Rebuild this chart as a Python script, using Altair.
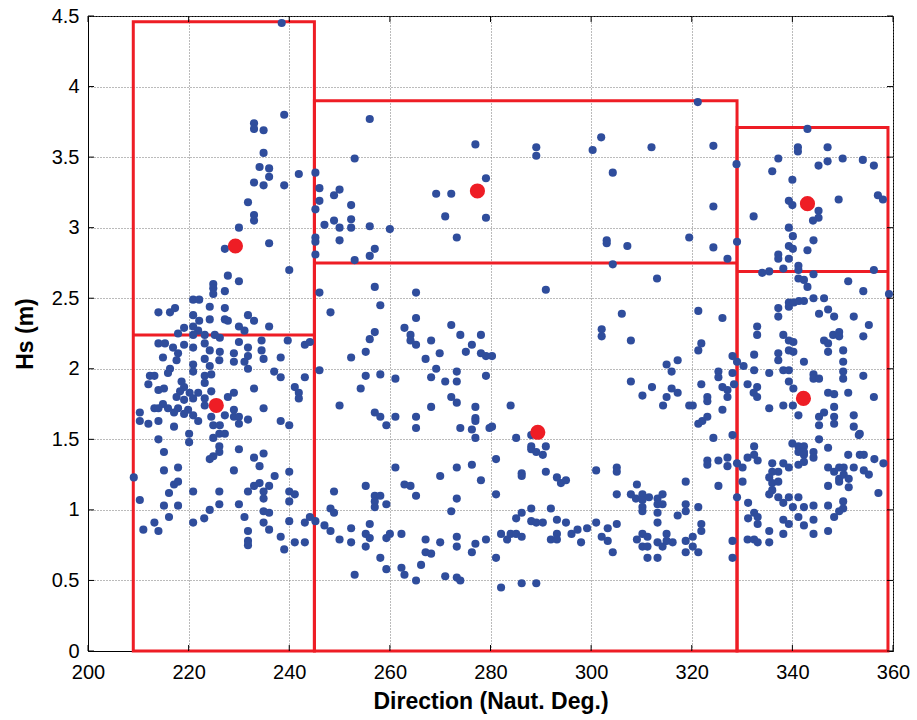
import altair as alt
import pandas as pd

# ---- scatter points (Direction deg, Hs m), grouped by region ----
pts_a_high = [(238.5,4.45),(239.0,3.80),(233.0,3.74),(233.0,3.70),(234.9,3.69),(234.9,3.53),(234.1,3.43),
    (236.0,3.42),(236.0,3.36),(233.0,3.32),(234.9,3.30),(239.0,3.30),(231.8,3.18),(233.0,3.09),(233.0,3.05),(230.0,3.00)]
pts_b_high = [(256.0,3.77),(277.0,3.59),(253.0,3.49),(241.9,3.38),(245.2,3.39),(246.0,3.28),(250.0,3.27),(248.9,3.23),
    (246.0,3.19),(245.2,3.13),(252.3,3.16),(252.3,3.06),(248.9,3.05),(247.0,3.02),(250.0,3.00),(252.3,3.00),(256.0,3.01),
    (260.0,2.99),(269.2,3.24),(272.2,3.24),(279.1,3.35),(271.0,3.08),(279.1,3.07),
    (289.1,3.57),(289.1,3.51),(302.0,3.64),(300.3,3.55),(312.0,3.57),(304.3,3.39)]
pts_c_high = [(321.2,3.89),(324.3,3.58),(328.9,3.45),(343.0,3.70),(341.1,3.57),(341.1,3.54),(347.0,3.57),(337.2,3.49),
    (347.0,3.47),(345.2,3.44),(350.0,3.49),(354.0,3.48),(356.2,3.44),(336.0,3.40),(340.0,3.34),(324.3,3.15),(332.3,3.08),
    (339.3,3.19),(340.0,3.16),(345.2,3.12),(345.2,3.07),(344.1,3.05),(349.2,3.20),(357.0,3.23),(358.0,3.20),(339.3,3.00)]
pts_a_mid = [(227.2,2.85),(236.0,2.89),(240.0,2.70),(227.8,2.66),(230.0,2.62),(224.9,2.60),(224.9,2.57),(224.9,2.53),
    (227.2,2.55),(220.9,2.49),(222.1,2.49),(224.2,2.44),(227.2,2.43),(214.0,2.40),(216.3,2.40),(217.3,2.43),(220.9,2.38),
    (222.1,2.34),(224.2,2.35),(227.2,2.35),(227.8,2.34),(231.8,2.38),(233.0,2.34),(230.0,2.30),(231.1,2.27),(236.0,2.30),
    (219.1,2.29),(220.9,2.30),(221.9,2.27),(217.9,2.25),(220.9,2.24),(223.2,2.24),(225.2,2.24),(226.2,2.22),(214.0,2.18),
    (215.3,2.18),(216.9,2.15),(219.1,2.17),(220.9,2.15),(223.2,2.18),(224.2,2.13),(226.2,2.12),(230.0,2.19),(231.8,2.15),
    (234.5,2.20),(234.5,2.13),(239.7,2.20),(214.9,2.08),(217.9,2.11),(217.6,2.06),(223.2,2.07),(226.1,2.06),(229.0,2.11),
    (229.0,2.05),(231.8,2.09),(231.1,2.05),(234.9,2.07),(238.3,2.08),(220.9,2.03),(216.3,2.00),(220.9,1.98),(224.2,2.02),
    (231.8,2.00),(237.0,1.98),(212.3,1.95),(213.2,1.95),(215.9,1.97),(223.2,1.95),(224.5,1.96),(238.3,1.94),(212.0,1.89),
    (218.6,1.91),(219.1,1.87),(223.2,1.90),(214.0,1.85),(215.1,1.86),(218.3,1.84),(220.2,1.83),(221.9,1.83),(224.5,1.84),
    (229.0,1.83),(233.0,1.86),(217.6,1.80),(219.1,1.78),(223.2,1.79),(227.8,1.80),(214.9,1.75),(220.9,1.79),(223.2,1.74),
    (213.2,1.72),(215.9,1.72),(217.9,1.72),(219.9,1.71),(210.3,1.69),(214.0,1.72),(217.1,1.69),(219.1,1.68),(220.9,1.67),
    (229.0,1.71),(234.9,1.72),(227.2,1.67),(229.0,1.66),(230.0,1.66),(224.5,1.66),(210.3,1.63),(212.0,1.61),(214.0,1.63),
    (221.9,1.63),(231.8,1.64),(230.0,1.61),(238.3,1.63),(240.0,1.60),(217.1,1.59),(224.9,1.60),(226.2,1.60),(226.1,1.54),
    (227.2,1.54),(220.1,1.54),(214.0,1.50),(224.9,1.51)]
pts_a_low = [(220.1,1.48),(226.1,1.45),(226.1,1.41),(224.9,1.38),(224.2,1.36),(215.1,1.41),(230.0,1.43),(233.0,1.37),
    (234.9,1.40),(209.1,1.23),(215.1,1.28),(217.9,1.30),(229.0,1.28),(234.1,1.31),(237.1,1.24),(240.0,1.27),(217.1,1.18),
    (217.9,1.20),(216.1,1.12),(220.9,1.13),(226.1,1.13),(210.3,1.07),(215.1,1.03),(217.9,1.03),(226.1,1.04),(224.2,1.00),
    (230.0,1.04),(231.8,1.13),(233.0,1.17),(234.1,1.19),(236.0,1.17),(234.9,1.13),(234.9,1.08),(240.0,1.13),(240.0,1.06),
    (216.1,0.95),(213.2,0.91),(211.0,0.86),(214.0,0.85),(220.9,0.91),(223.1,0.94),(231.1,0.95),(234.9,0.99),(236.0,0.98),
    (234.9,0.91),(236.0,0.86),(231.8,0.85),(231.8,0.78),(231.8,0.75),(238.3,0.81),(239.0,0.72),(240.0,0.92)]
pts_b_mid = [(273.3,2.93),(245.2,2.93),(245.2,2.90),(250.0,2.91),(257.0,2.85),(256.0,2.80),(253.0,2.77),(245.2,2.81),
    (257.0,2.58),(246.0,2.54),(265.2,2.54),(258.1,2.45),(248.2,2.40),(265.2,2.36),(262.9,2.29),(272.2,2.31),(274.0,2.24),
    (278.1,2.24),(257.0,2.26),(256.0,2.21),(264.1,2.24),(264.1,2.20),(265.2,2.17),(268.2,2.20),(276.3,2.17),(275.1,2.12),
    (278.1,2.11),(279.1,2.09),(269.9,2.11),(267.1,2.07),(255.2,2.12),(252.3,2.08),(243.1,2.17),(244.1,2.19),(246.0,1.99),
    (258.1,1.96),(255.2,1.95),(261.1,1.93),(269.2,2.00),(273.3,1.98),(273.3,1.91),(271.0,1.91),(268.2,1.94),(279.1,1.95),
    (243.1,1.94),(241.1,1.87),(241.9,1.83),(241.9,1.79),(254.2,1.86),(250.0,1.74),(272.2,1.80),(273.3,1.76),(268.2,1.73),
    (277.0,1.73),(257.0,1.69),(258.1,1.66),(261.1,1.66),(265.2,1.66),(265.2,1.58),(259.3,1.60),(274.0,1.58),(277.0,1.65),
    (277.0,1.63),(276.3,1.57),(277.0,1.51),(279.8,1.58),
    (303.1,2.91),(303.1,2.89),(307.2,2.87),(319.5,2.93),(304.3,2.74),(313.1,2.64),(291.0,2.56),(306.1,2.39),(302.1,2.28),
    (302.1,2.23),(307.9,2.20),(280.3,2.09),(315.0,2.03),(317.2,2.06),(316.0,1.98),(307.9,1.91),(312.1,1.87),(310.2,1.81),
    (316.0,1.86),(317.2,1.83),(315.0,1.80),(314.3,1.74),(319.5,1.74),(284.0,1.74),(280.3,1.59),(285.1,1.51),(288.1,1.53)]
pts_b_low = [(241.1,1.11),(243.1,0.77),(241.1,0.77),(243.1,0.91),(244.1,0.95),(245.2,0.92),(247.0,0.89),(248.2,0.85),
    (248.2,1.01),(248.9,0.98),(248.9,1.13),(250.0,0.79),(252.3,0.87),(252.3,0.77),(253.0,0.54),(255.2,1.17),(257.0,1.10),
    (258.1,1.10),(257.0,1.06),(257.0,1.02),(259.3,1.04),(256.0,0.90),(255.2,0.83),(256.0,0.80),(255.2,0.74),(259.3,0.80),
    (260.0,0.83),(258.1,0.66),(259.3,0.58),(261.1,1.30),(262.9,1.18),(264.1,1.17),(265.2,1.10),(262.3,0.83),(262.3,0.59),
    (262.9,0.54),(265.2,0.50),(266.2,0.61),(267.1,0.79),(267.1,0.70),(268.2,0.69),(270.0,1.24),(273.3,1.30),(276.3,1.32),
    (278.1,1.21),(273.3,1.08),(272.2,0.99),(270.0,0.77),(273.3,0.81),(273.3,0.74),(277.0,0.76),(276.3,0.70),(279.1,0.79),
    (271.0,0.53),(273.3,0.52),(274.0,0.50),
    (288.1,1.45),(288.1,1.43),(289.1,1.41),(290.4,1.39),(291.0,1.45),(281.1,1.36),(286.2,1.26),(286.2,1.24),(291.0,1.27),
    (293.2,1.23),(294.0,1.19),(295.0,1.21),(281.1,1.11),(301.0,1.28),(305.1,1.30),(305.1,1.27),(305.1,1.11),(309.1,1.18),
    (307.9,1.11),(308.9,1.08),(310.2,1.11),(310.2,1.07),(311.5,1.09),(313.2,1.08),(314.2,1.11),(314.2,1.04),(313.2,1.04),
    (310.2,1.02),(310.2,0.99),(313.2,0.98),(313.2,0.91),(317.2,0.96),(318.8,1.20),(318.8,1.04),(318.8,0.99),(286.2,0.98),
    (285.1,0.94),(288.1,1.01),(288.1,0.92),(289.1,0.91),(290.4,0.91),(292.0,1.01),(293.2,0.93),(295.0,0.91),(282.1,0.83),
    (283.3,0.79),(284.0,0.83),(285.1,0.83),(286.2,0.81),(292.0,0.79),(293.2,0.83),(293.2,0.79),(296.1,0.83),(297.3,0.86),
    (298.0,0.77),(299.2,0.87),(301.0,0.91),(303.3,0.87),(305.1,0.90),(302.1,0.81),(303.3,0.78),(304.3,0.70),(281.1,0.66),
    (309.1,0.79),(310.2,0.83),(311.2,0.81),(310.2,0.74),(311.2,0.74),(313.2,0.77),(314.2,0.74),(315.0,0.83),(316.2,0.77),
    (315.0,0.78),(311.2,0.66),(313.2,0.66),(318.8,0.78),(318.8,0.70),(282.1,0.45),(286.2,0.48),(289.1,0.48)]
pts_c_mid = [(324.3,2.86),(327.1,2.78),(329.0,2.90),(340.1,2.94),(344.2,2.91),(339.3,2.87),(340.1,2.85),(343.0,2.84),
    (337.2,2.81),(337.2,2.78),(339.3,2.78),(338.2,2.71),(341.2,2.73),(341.2,2.70),(334.0,2.68),(335.4,2.69),(341.2,2.64),
    (342.3,2.63),(343.0,2.58),(344.2,2.67),(356.2,2.70),(351.1,2.62),(354.1,2.55),(359.2,2.53),(339.3,2.47),(339.3,2.44),
    (340.3,2.47),(341.3,2.48),(342.3,2.48),(344.2,2.50),(346.3,2.50),(337.2,2.43),(337.2,2.37),(345.3,2.39),(347.1,2.42),
    (348.3,2.37),(352.2,2.37),(321.3,2.41),(326.1,2.36),(333.0,2.30),(333.0,2.24),(338.2,2.24),(339.3,2.20),(340.2,2.19),
    (346.3,2.20),(347.1,2.18),(348.1,2.24),(349.3,2.26),(349.3,2.23),(355.2,2.31),(354.1,2.23),(321.9,2.18),(321.3,2.13),
    (347.1,2.12),(350.1,2.13),(337.2,2.11),(337.2,2.06),(339.3,2.13),(340.2,2.12),(332.4,2.10),(328.1,2.09),(329.0,2.05),
    (330.3,2.02),(342.3,2.05),(350.1,2.05),(350.1,1.98),(332.4,1.99),(335.4,1.97),(338.2,1.99),(339.3,1.99),(325.3,1.98),
    (325.3,1.94),(328.1,1.97),(344.2,1.96),(344.2,1.93),(345.3,1.93),(350.1,1.93),(354.1,1.95),(339.3,1.91),(340.2,1.86),
    (321.9,1.89),(326.1,1.87),(327.1,1.85),(328.4,1.89),(331.1,1.89),(333.0,1.87),(332.3,1.83),(333.0,1.80),(327.1,1.80),
    (323.1,1.80),(323.1,1.77),(320.2,1.74),(326.1,1.71),(335.4,1.72),(338.2,1.74),(340.1,1.74),(347.1,1.83),(348.3,1.82),
    (351.1,1.83),(356.2,1.80),(341.2,1.67),(345.3,1.66),(346.3,1.69),(348.3,1.73),(348.3,1.66),(348.3,1.61),(352.2,1.67),
    (345.3,1.60),(352.2,1.59),(353.4,1.54),(321.3,1.61),(322.1,1.63),(323.1,1.66),(324.3,1.51),(328.1,1.53),(345.3,1.50)]
pts_c_low = [(332.4,1.45),(323.1,1.35),(323.1,1.32),(325.3,1.35),(327.1,1.37),(327.1,1.31),(329.0,1.33),(330.1,1.30),
    (330.1,1.20),(329.0,1.09),(331.1,1.37),(332.4,1.39),(333.1,1.35),(325.3,1.17),(321.3,1.02),(321.9,0.90),(321.9,0.85),
    (320.2,0.81),(320.2,0.74),(321.3,0.70),(328.1,0.78),(328.1,0.66),(336.0,1.33),(338.2,1.33),(339.3,1.30),(337.2,1.27),
    (336.0,1.27),(335.4,1.23),(336.0,1.19),(337.2,1.20),(336.0,1.14),(335.4,1.11),(337.2,1.09),(338.2,1.05),(339.3,1.09),
    (341.2,1.09),(331.2,1.05),(331.2,0.94),(332.4,0.98),(333.1,0.95),(333.1,0.90),(331.1,0.79),(332.4,0.79),(333.1,0.77),
    (335.4,0.85),(335.4,0.77),(338.2,0.93),(339.3,0.90),(338.2,0.83),(340.1,1.02),(342.3,1.02),(344.2,1.03),(341.2,0.95),
    (342.3,0.89),(344.2,0.93),(344.2,0.83),(340.0,1.47),(341.2,1.45),(342.3,1.45),(341.2,1.41),(342.3,1.41),(342.3,1.39),
    (344.2,1.41),(344.2,1.37),(341.2,1.32),(342.3,1.34),(347.1,1.44),(347.1,1.30),(347.1,1.17),(347.1,1.03),(347.1,0.85),
    (348.3,1.27),(349.3,1.30),(350.2,1.30),(349.3,1.22),(350.2,1.25),(351.2,1.22),(351.2,1.16),(352.2,1.30),(349.3,1.20),
    (354.2,1.28),(355.2,1.25),(351.1,1.39),(353.4,1.39),(354.2,1.39),(356.3,1.36),(358.1,1.33),(357.1,1.12),(350.1,1.06),
    (350.1,1.01),(349.3,0.99),(348.3,0.95),(353.2,1.53)]

# ---- cluster boxes (sector / Hs split) ----
box_dir_lo = [209, 245, 329]
box_dir_hi = [245, 329, 359]
box_hs_top = [4.46, 3.90, 3.71]
box_hs_split = [2.24, 2.75, 2.69]

# ---- cluster centres ----
cen_dir = [229.3, 225.5, 277.4, 289.4, 343.0, 342.2]
cen_hs = [2.87, 1.74, 3.26, 1.55, 3.17, 1.79]

x_ticks = [200, 220, 240, 260, 280, 300, 320, 340, 360]
y_ticks = [0, 0.5, 1, 1.5, 2, 2.5, 3, 3.5, 4, 4.5]

all_pts = (pts_a_high + pts_b_high + pts_c_high + pts_a_mid + pts_a_low +
           pts_b_mid + pts_b_low + pts_c_mid + pts_c_low)
pts = pd.DataFrame(all_pts, columns=["dir", "hs"])
boxes = pd.DataFrame({"x1": box_dir_lo, "x2": box_dir_hi, "top": box_hs_top,
                      "bot": [0] * 3, "split": box_hs_split})
cen = pd.DataFrame({"dir": cen_dir, "hs": cen_hs})
xt = pd.DataFrame({"v": x_ticks})
yt = pd.DataFrame({"v": y_ticks})

W, H = 805, 635
RED = "#EE1D25"
BLUE = "#2F4D9C"
FONT = "Liberation Sans"

xs = alt.Scale(domain=[200, 360], nice=False, zero=False)
ys = alt.Scale(domain=[0, 4.5], nice=False)

xax = alt.Axis(values=x_ticks, format="d", title="Direction (Naut. Deg.)", grid=True,
               gridDash=[1, 2], gridColor="#777777", gridWidth=1, ticks=False, labelFlush=False,
               domainColor="black", labelFontSize=20, labelColor="black", labelPadding=11,
               titleFontSize=23, titleFontWeight="bold", titleColor="black", titlePadding=8,
               labelFont=FONT, titleFont=FONT)
yax = alt.Axis(values=y_ticks, format="~g", title="Hs (m)", grid=True,
               gridDash=[1, 2], gridColor="#777777", gridWidth=1, ticks=False, labelFlush=False,
               domainColor="black", labelFontSize=20, labelColor="black", labelPadding=9,
               titleFontSize=23, titleFontWeight="bold", titleColor="black", titlePadding=14,
               labelFont=FONT, titleFont=FONT)

base_pts = alt.Chart(pts).mark_circle(size=66, opacity=1, color=BLUE).encode(
    x=alt.X("dir:Q", scale=xs, axis=xax),
    y=alt.Y("hs:Q", scale=ys, axis=yax),
)

rects = alt.Chart(boxes).mark_rect(fillOpacity=0, stroke=RED, strokeWidth=3).encode(
    x=alt.X("x1:Q", scale=xs), x2="x2:Q",
    y=alt.Y("bot:Q", scale=ys), y2="top:Q",
)
splits = alt.Chart(boxes).mark_rule(color=RED, strokeWidth=3).encode(
    x=alt.X("x1:Q", scale=xs), x2="x2:Q",
    y=alt.Y("split:Q", scale=ys),
)
cents = alt.Chart(cen).mark_circle(size=230, opacity=1, color=RED).encode(
    x=alt.X("dir:Q", scale=xs), y=alt.Y("hs:Q", scale=ys),
)

# inward tick marks on all four sides (MATLAB box style)
tb = alt.Chart(xt).mark_rule(color="black", strokeWidth=1).encode(
    x=alt.X("v:Q", scale=xs), y=alt.value(H), y2=alt.value(H - 6))
tt = alt.Chart(xt).mark_rule(color="black", strokeWidth=1).encode(
    x=alt.X("v:Q", scale=xs), y=alt.value(0), y2=alt.value(6))
tl = alt.Chart(yt).mark_rule(color="black", strokeWidth=1).encode(
    y=alt.Y("v:Q", scale=ys), x=alt.value(0), x2=alt.value(6))
tr = alt.Chart(yt).mark_rule(color="black", strokeWidth=1).encode(
    y=alt.Y("v:Q", scale=ys), x=alt.value(W), x2=alt.value(W - 6))

chart = alt.layer(rects, splits, base_pts, cents, tb, tt, tl, tr).properties(
    width=W, height=H,
    autosize=alt.AutoSizeParams(type="none"),
    padding={"left": 88, "top": 16, "right": 24, "bottom": 69},
    background="white",
).configure_view(stroke="black", strokeWidth=1)

chart.save("out.html", embed_options={"renderer": "svg", "actions": False})
